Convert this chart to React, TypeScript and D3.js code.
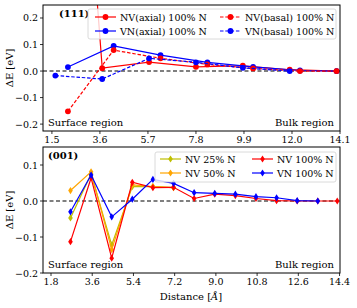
import React, { useEffect, useRef } from 'react';
import * as d3 from 'd3';

// (111) panel
const xAxial111 = [1.65, 3.7, 5.75, 7.8, 9.85, 11.9, 13.95];
const xShift111 = [2.2, 4.2, 6.25, 8.3, 10.3, 12.35, 13.95];
const nvAxial = [2.35, 0.011, 0.034, 0.016, 0.02, 0.005, 0.0];
const vnAxial = [0.015, 0.095, 0.06, 0.033, 0.016, 0.002, 0.0];
const nvBasal = [-0.152, 0.079, 0.048, 0.025, 0.01, 0.0, 0.0];
const vnBasal = [-0.017, -0.03, 0.048, 0.033, 0.012, 0.0];
const xTicks111 = [1.5, 3.6, 5.7, 7.8, 9.9, 12.0, 14.1];
const yTicks111 = [-0.2, -0.1, 0.0, 0.1, 0.2];

// (001) panel
const x001 = [2.65, 3.55, 4.45, 5.35, 6.25, 7.15, 8.05, 8.95, 9.85, 10.75, 11.65, 12.55, 13.45, 14.3];
const nv25 = [-0.047, 0.075, -0.122, 0.04, 0.04, 0.037];
const nv50 = [0.029, 0.081, -0.135, 0.045, 0.04, 0.037];
const nv100 = [-0.113, 0.064, -0.159, 0.052, 0.037, 0.038, 0.007, 0.019, 0.015, 0.007, 0.001, 0.0, 0.0, 0.0];
const vn100 = [-0.03, 0.072, -0.044, 0.005, 0.06, 0.049, 0.023, 0.021, 0.019, 0.012, 0.009, 0.001, 0.0];
const xTicks001 = [1.8, 3.6, 5.4, 7.2, 9.0, 10.8, 12.6, 14.4];
const yTicks001 = [-0.2, -0.1, 0.0, 0.1];

const FONT = 'DejaVu Serif';
const W = 357, H = 308;

type Series = { label: string; xs: number[]; ys: number[]; color: string; dash?: string; marker: 'o' | 'd' };

const fmt = (v: number) => (v < 0 ? '\u2212' : '') + Math.abs(v).toFixed(1);

const App: React.FC = () => {
  const svgRef = useRef<SVGSVGElement>(null);

  useEffect(() => {
    if (!svgRef.current) return;
    const svg = d3.select(svgRef.current);
    svg.selectAll('*').remove();

    const drawPanel = (
      top: number, bottom: number, xDomain: [number, number], yDomain: [number, number],
      xTicks: number[], yTicks: number[], series: Series[], id: string
    ) => {
      const left = 43, right = 340;
      const x = d3.scaleLinear().domain(xDomain).range([left, right]);
      const y = d3.scaleLinear().domain(yDomain).range([bottom, top]);
      const g = svg.append('g');

      g.append('clipPath').attr('id', id)
        .append('rect').attr('x', left).attr('y', top).attr('width', right - left).attr('height', bottom - top);

      // zero line
      g.append('line')
        .attr('x1', left).attr('x2', right).attr('y1', y(0)).attr('y2', y(0))
        .attr('stroke', '#000').attr('stroke-width', 1.1).attr('stroke-dasharray', '4,2.5');

      const plot = g.append('g').attr('clip-path', `url(#${id})`);
      series.forEach(s => {
        const pts = s.ys.map((v, i) => [s.xs[i], v] as [number, number]);
        const line = d3.line<[number, number]>().x(d => x(d[0])).y(d => y(d[1]));
        plot.append('path').datum(pts)
          .attr('fill', 'none').attr('stroke', s.color).attr('stroke-width', 1.2)
          .attr('stroke-dasharray', s.dash || null).attr('d', line);
        pts.forEach(p => drawMarker(plot, x(p[0]), y(p[1]), s));
      });

      // frame
      g.append('rect').attr('x', left).attr('y', top).attr('width', right - left).attr('height', bottom - top)
        .attr('fill', 'none').attr('stroke', '#000').attr('stroke-width', 1);

      xTicks.forEach(t => {
        g.append('line').attr('x1', x(t)).attr('x2', x(t)).attr('y1', bottom).attr('y2', bottom + 3)
          .attr('stroke', '#000').attr('stroke-width', 0.8);
        g.append('text').attr('x', x(t)).attr('y', bottom + 12).attr('text-anchor', 'middle')
          .attr('font-family', FONT).attr('font-size', 9.5).text(t.toFixed(1));
      });
      yTicks.forEach(t => {
        g.append('line').attr('x1', left - 3).attr('x2', left).attr('y1', y(t)).attr('y2', y(t))
          .attr('stroke', '#000').attr('stroke-width', 0.8);
        g.append('text').attr('x', left - 5).attr('y', y(t) + 3.5).attr('text-anchor', 'end')
          .attr('font-family', FONT).attr('font-size', 9.5).text(fmt(t));
      });

      g.append('text')
        .attr('transform', `translate(13,${(top + bottom) / 2}) rotate(-90)`)
        .attr('text-anchor', 'middle').attr('font-family', FONT).attr('font-size', 10)
        .text('\u0394E [eV]');

      g.append('text').attr('x', 48).attr('y', bottom - 5).attr('font-family', FONT).attr('font-size', 10)
        .text('Surface region');
      g.append('text').attr('x', 334).attr('y', bottom - 5).attr('text-anchor', 'end')
        .attr('font-family', FONT).attr('font-size', 10).text('Bulk region');
      return g;
    };

    const drawMarker = (sel: d3.Selection<SVGGElement, unknown, null, undefined>, cx: number, cy: number, s: Series) => {
      if (s.marker === 'o') {
        sel.append('circle').attr('cx', cx).attr('cy', cy).attr('r', 2.9).attr('fill', s.color);
      } else {
        sel.append('path').attr('d', `M${cx},${cy - 3.6}L${cx + 2.3},${cy}L${cx},${cy + 3.6}L${cx - 2.3},${cy}Z`)
          .attr('fill', s.color);
      }
    };

    const drawLegend = (
      bx: number, by: number, bw: number, bh: number, items: Series[], cols: number[], rows: number[]
    ) => {
      const g = svg.append('g');
      g.append('rect').attr('x', bx).attr('y', by).attr('width', bw).attr('height', bh)
        .attr('rx', 2).attr('fill', 'rgba(255,255,255,0.8)').attr('stroke', '#d0d0d0').attr('stroke-width', 0.8);
      items.forEach((s, i) => {
        const cx = cols[Math.floor(i / 2)];
        const cy = rows[i % 2];
        g.append('line').attr('x1', cx).attr('x2', cx + 21).attr('y1', cy).attr('y2', cy)
          .attr('stroke', s.color).attr('stroke-width', 1.2).attr('stroke-dasharray', s.dash || null);
        drawMarker(g as any, cx + 10.5, cy, s);
        g.append('text').attr('x', cx + 25).attr('y', cy + 3.5).attr('font-family', FONT).attr('font-size', 9.5)
          .text(s.label);
      });
    };

    const s111: Series[] = [
      { label: 'NV(axial) 100% N', xs: xAxial111, ys: nvAxial, color: '#ff0000', marker: 'o' },
      { label: 'VN(axial) 100% N', xs: xShift111, ys: vnAxial, color: '#0000ff', marker: 'o' },
      { label: 'NV(basal) 100% N', xs: xShift111, ys: nvBasal, color: '#ff0000', dash: '3.5,1.8', marker: 'o' },
      { label: 'VN(basal) 100% N', xs: xAxial111, ys: vnBasal, color: '#0000ff', dash: '3.5,1.8', marker: 'o' },
    ];
    drawPanel(5, 131, [1.11, 14.1], [-0.226, 0.249], xTicks111, yTicks111, s111, 'clip111');
    svg.append('text').attr('x', 59).attr('y', 17).attr('font-family', FONT).attr('font-size', 10)
      .attr('font-weight', 'bold').text('(111)');
    drawLegend(88, 9, 248, 30, s111, [95, 220], [17, 31]);

    const s001: Series[] = [
      { label: 'NV 25% N', xs: x001, ys: nv25, color: '#bfbf00', marker: 'd' },
      { label: 'NV 50% N', xs: x001, ys: nv50, color: '#ffa500', marker: 'd' },
      { label: 'NV 100% N', xs: x001, ys: nv100, color: '#ff0000', marker: 'd' },
      { label: 'VN 100% N', xs: x001, ys: vn100, color: '#0000ff', marker: 'd' },
    ];
    drawPanel(147, 273, [1.45, 14.42], [-0.2, 0.15], xTicks001, yTicks001, s001, 'clip001');
    svg.append('text').attr('x', 48).attr('y', 159).attr('font-family', FONT).attr('font-size', 10)
      .attr('font-weight', 'bold').text('(001)');
    drawLegend(155, 152, 181, 30, s001, [160, 252], [159, 173]);

    const xl = svg.append('text').attr('x', 191).attr('y', 300).attr('text-anchor', 'middle')
      .attr('font-family', FONT).attr('font-size', 10);
    xl.append('tspan').text('Distance [');
    xl.append('tspan').attr('font-style', 'italic').text('\u00c5');
    xl.append('tspan').text(']');
  }, []);

  return (
    <svg ref={svgRef} width={W} height={H}
      style={{ position: 'absolute', left: 0, top: 0, background: '#fff' }} />
  );
};

export default App;
